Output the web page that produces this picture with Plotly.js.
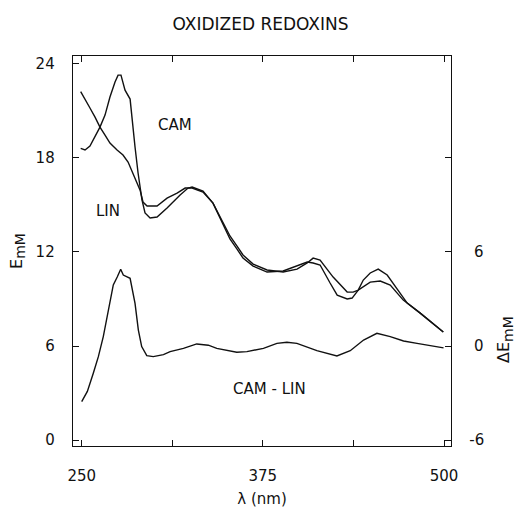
<!DOCTYPE html>
<html>
<head>
<meta charset="utf-8">
<script src="https://cdn.plot.ly/plotly-3.0.1.min.js"></script>
<style>html,body{margin:0;padding:0;background:#fff;}#chart{width:521px;height:508px;}</style>
</head>
<body>
<div id="chart"></div>
<script>
// Wavelength (nm) and extinction (mM^-1 cm^-1)
const lambdaCAM = [249.3, 252.3, 255.7, 259.2, 262.6, 266.1, 269.5, 273.0, 275.1, 277.1, 279.9, 283.4, 284.7, 286.8, 288.9, 291.6, 293.7, 297.2, 302.0, 308.9, 317.9, 323.4, 326.2, 333.7, 340.6, 347.5, 352.3, 357.2, 361.3, 368.3, 377.9, 389.0, 398.6, 405.6, 409.7, 414.5, 421.4, 426.3, 433.2, 436.6, 440.8, 444.3, 449.1, 454.6, 460.8, 469.8, 474.6, 483.6, 499.5];
const eCAM = [18.62, 18.51, 18.76, 19.34, 19.97, 20.74, 21.89, 22.85, 23.29, 23.29, 22.33, 21.76, 20.42, 18.70, 17.04, 15.32, 14.49, 14.17, 14.23, 14.81, 15.64, 16.08, 16.15, 15.89, 15.12, 13.72, 12.83, 12.19, 11.61, 11.10, 10.72, 10.79, 11.10, 11.36, 11.30, 11.17, 10.02, 9.25, 9.00, 9.06, 9.57, 10.21, 10.66, 10.91, 10.53, 9.38, 8.74, 8.10, 6.89];

const lambdaLIN = [249.3, 252.3, 255.7, 259.2, 262.6, 266.1, 269.5, 274.4, 278.5, 282.0, 285.4, 288.2, 290.3, 292.3, 295.1, 302.0, 308.9, 315.8, 321.4, 326.2, 333.7, 340.6, 347.5, 352.3, 357.2, 361.3, 368.3, 377.9, 389.0, 398.6, 405.6, 409.7, 414.5, 423.5, 433.2, 437.3, 440.8, 449.1, 456.0, 462.9, 471.9, 474.6, 483.6, 499.5];
const eLIN = [22.23, 21.70, 21.19, 20.61, 19.97, 19.46, 18.95, 18.51, 18.19, 17.74, 17.04, 16.46, 15.95, 15.19, 14.94, 14.94, 15.44, 15.76, 16.08, 16.08, 15.83, 15.12, 13.91, 13.02, 12.38, 11.81, 11.23, 10.85, 10.72, 10.91, 11.30, 11.61, 11.49, 10.40, 9.44, 9.44, 9.57, 10.08, 10.15, 9.89, 8.93, 8.74, 8.10, 6.89];

const lambdaDiff = [250.0, 253.9, 258.0, 261.5, 264.9, 268.4, 271.8, 274.6, 276.9, 278.7, 283.4, 286.8, 289.1, 291.4, 294.9, 299.4, 306.4, 311.0, 320.2, 329.4, 337.4, 343.2, 357.0, 364.0, 375.4, 384.7, 391.6, 398.5, 412.3, 426.1, 435.3, 444.5, 453.7, 462.9, 472.1, 481.4, 495.2, 499.7];
const dE = [-3.55, -2.9, -1.74, -0.68, 0.6, 2.3, 3.9, 4.42, 4.9, 4.53, 4.32, 2.72, 1.02, -0.04, -0.62, -0.68, -0.55, -0.36, -0.15, 0.13, 0.05, -0.15, -0.4, -0.36, -0.15, 0.17, 0.24, 0.17, -0.3, -0.64, -0.3, 0.38, 0.81, 0.6, 0.32, 0.17, -0.08, -0.12];

const xTickVals = [250, 312.5, 375, 437.5, 500];
const xTickText = ['250', '', '375', '', '500'];
const yTickVals = [0, 6, 12, 18, 24];
const y2TickVals = [-6, 0, 6, 12];
const y2TickText = ['-6', '\u20080', '\u20086', ''];

const ink = '#111111';
const FONT = 'DejaVu Sans, Liberation Sans, sans-serif';
const lineStyle = {color: ink, width: 1.4};

const traces = [
  {x: lambdaCAM, y: eCAM, type: 'scatter', mode: 'lines', line: lineStyle, name: 'CAM', hoverinfo: 'skip'},
  {x: lambdaLIN, y: eLIN, type: 'scatter', mode: 'lines', line: lineStyle, name: 'LIN', hoverinfo: 'skip'},
  {x: lambdaDiff, y: dE, type: 'scatter', mode: 'lines', line: lineStyle, name: 'CAM - LIN', yaxis: 'y2', hoverinfo: 'skip'}
];

const axisCommon = {
  showline: true, linecolor: ink, linewidth: 1.3,
  ticks: 'inside', ticklen: 6, tickwidth: 1, tickcolor: ink,
  showgrid: false, zeroline: false,
  tickfont: {family: FONT, size: 15, color: ink}
};

const layout = {
  width: 521, height: 508,
  margin: {l: 73, r: 70, t: 56, b: 62, pad: 0},
  paper_bgcolor: '#fff', plot_bgcolor: '#fff',
  showlegend: false,
  font: {family: FONT, color: ink},
  title: {text: 'OXIDIZED REDOXINS', font: {family: FONT, size: 17, color: ink},
          x: 0.5, xref: 'container', y: 0.953, yref: 'container', xanchor: 'center', yanchor: 'middle'},
  xaxis: Object.assign({}, axisCommon, {
    range: [244.0, 504.83], tickmode: 'array', tickvals: xTickVals, ticktext: xTickText,
    mirror: 'ticks', ticklabelstandoff: 16,
    title: {text: '\u2007\u2007\u2007\u03bb (nm)', font: {family: FONT, size: 15, color: ink}, standoff: 11}
  }),
  yaxis: Object.assign({}, axisCommon, {
    range: [-0.383, 24.51], tickmode: 'array', tickvals: yTickVals,
    ticklabelstandoff: 14,
    title: {text: 'E<sub><span style="font-size:14px">mM</span></sub>', font: {family: FONT, size: 16, color: ink}, standoff: 9}
  }),
  yaxis2: Object.assign({}, axisCommon, {
    range: [-6.383, 18.51], tickmode: 'array', tickvals: y2TickVals, ticktext: y2TickText,
    overlaying: 'y', side: 'right', ticklabelstandoff: 14
  }),
  annotations: [
    {x: 314.4, y: 20.1, xref: 'x', yref: 'y', text: 'CAM', showarrow: false, font: {family: FONT, size: 15, color: ink}},
    {x: 268.2, y: 14.6, xref: 'x', yref: 'y', text: 'LIN', showarrow: false, font: {family: FONT, size: 15, color: ink}},
    {x: 379.9, y: 3.25, xref: 'x', yref: 'y', text: 'CAM - LIN', showarrow: false, font: {family: FONT, size: 15, color: ink}},
    {x: 1.175, y: 0.208, xref: 'paper', yref: 'paper', text: '\u0394E<sub><span style="font-size:14px">mM</span></sub>', textangle: -90,
     showarrow: false, font: {family: FONT, size: 16, color: ink}}
  ]
};

Plotly.newPlot('chart', traces, layout, {staticPlot: true, displayModeBar: false});
</script>
</body>
</html>
